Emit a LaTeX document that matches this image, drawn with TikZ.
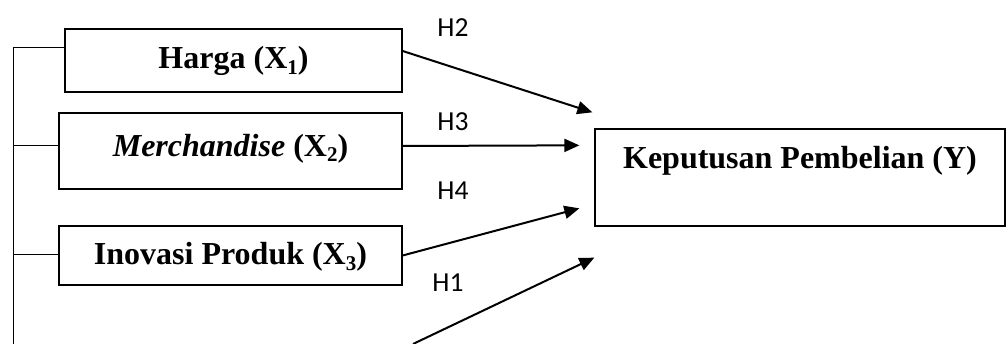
\documentclass[tikz,border=0pt]{standalone}
\usepackage{fontspec}
\setmainfont{Liberation Serif}
\newfontfamily\labfont{Carlito}
\usetikzlibrary{arrows.meta}
\newcommand{\mysub}[1]{\raisebox{-0.16em}{\fontsize{21}{21}\selectfont #1}}
\begin{document}
\begin{tikzpicture}[x=1pt,y=1pt,
  varbox/.style={draw, line width=1.3pt, rectangle, inner sep=0pt, align=center,
    font=\fontsize{32}{35}\selectfont\bfseries},
  link/.style={line width=1pt},
  path/.style={line width=2pt, -{Triangle[length=15pt,width=13pt]}},
  hlab/.style={font=\labfont\fontsize{27.5}{30}\selectfont, inner sep=0pt}]
\useasboundingbox (0,0) rectangle (1006,344);
\node[varbox, minimum width=337, minimum height=63, text height=22, text depth=5] (harga) at (233.5,283.5) {Harga (X\mysub{1})};
\node[varbox, minimum width=343, minimum height=76, text height=22, text depth=11] (merch) at (230.5,193) {\textit{Merchandise} (X\mysub{2})};
\node[varbox, minimum width=343, minimum height=59, text height=22, text depth=3] (inov) at (230.5,88.5) {Inovasi Produk (X\mysub{3})};
\node[varbox, minimum width=410, minimum height=97, text height=22, text depth=39] (kp) at (800,166.5) {Keputusan Pembelian (Y)};
\coordinate (bot) at (13,0);
\coordinate (h2s) at ([yshift=9.5]harga.east);
\coordinate (h3s) at ([yshift=5]merch.east);
\coordinate (h1s) at (413,0);
\coordinate (t2) at ([shift={(-2,16)}]kp.north west);
\coordinate (t3) at ([shift={(-15,-17)}]kp.north west);
\coordinate (t4) at ([shift={(-15,-80)}]kp.north west);
\coordinate (t1) at ([shift={(0,-31)}]kp.south west);
\coordinate (lh) at ([yshift=12.5]harga.west);
\coordinate (lm) at ([yshift=5]merch.west);
\coordinate (li) at ([yshift=0.5]inov.west);
\draw[link] (lh) -| (bot);
\draw[link] (lm) -- (lm -| bot);
\draw[link] (li) -- (li -| bot);
\draw[path] (h2s) -- (t2);
\draw[path] (h3s) -- (t3);
\draw[path] (inov.east) -- (t4);
\draw[path] (h1s) -- (t1);
\node[hlab] (lab2) at (453,316) {H2};
\node[hlab] (lab3) at (453,222) {H3};
\node[hlab] (lab4) at (453,153) {H4};
\node[hlab] (lab1) at (448,61) {H1};
\end{tikzpicture}
\end{document}
